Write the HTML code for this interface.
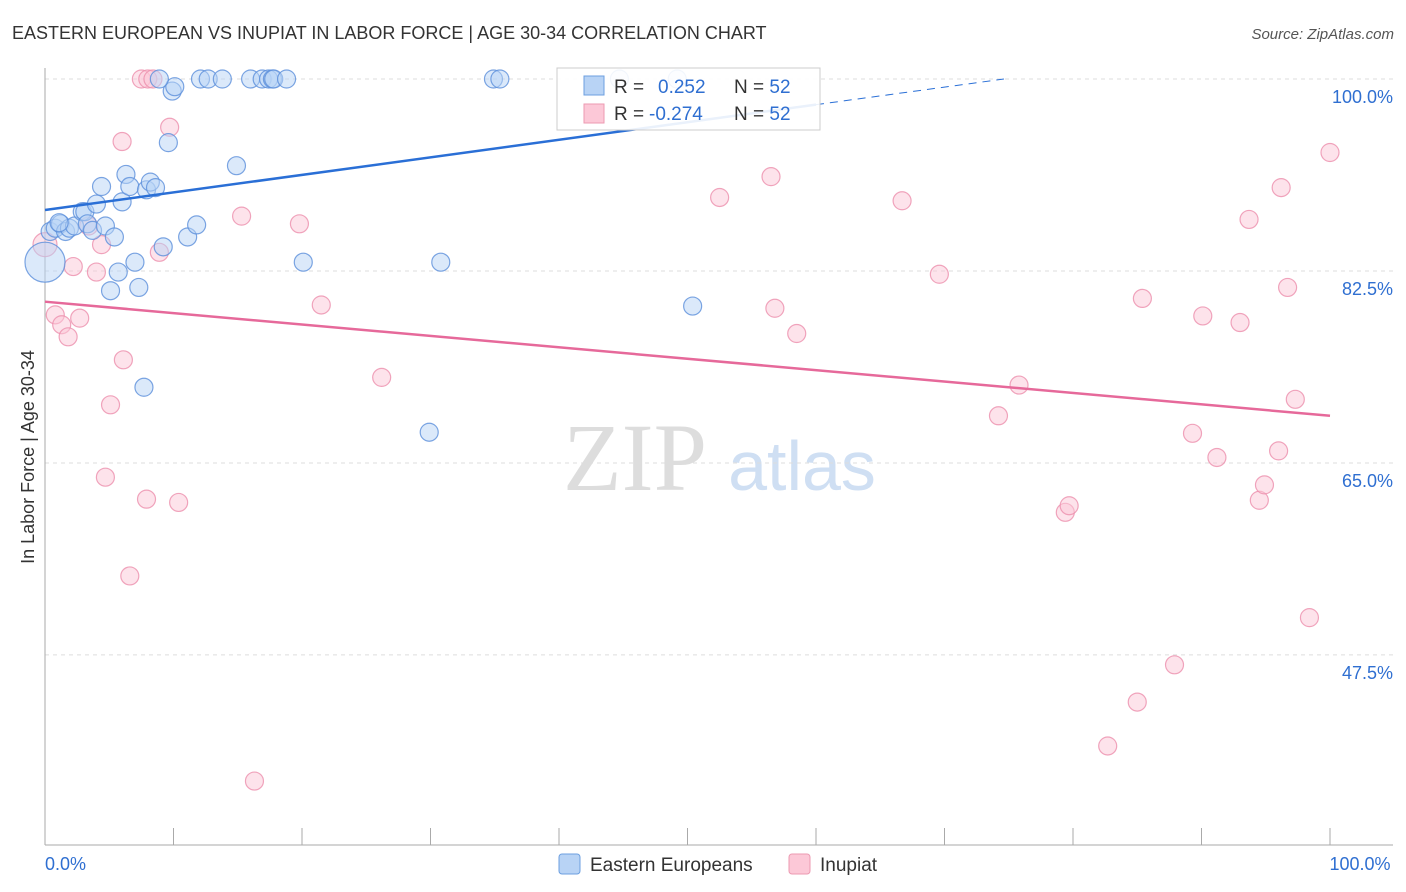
<!DOCTYPE html>
<html><head><meta charset="utf-8"><style>
body{margin:0;background:#fff;font-family:"Liberation Sans",sans-serif}
svg{display:block}
</style></head><body>
<svg id="chart" width="1406" height="892">
<text x="12" y="39" font-size="18" fill="#333">EASTERN EUROPEAN VS INUPIAT IN LABOR FORCE | AGE 30-34 CORRELATION CHART</text>
<text x="1394" y="39" font-size="15" fill="#555" text-anchor="end" font-style="italic">Source: ZipAtlas.com</text>
<text x="34" y="457" font-size="18" fill="#333" text-anchor="middle" transform="rotate(-90 34 457)">In Labor Force | Age 30-34</text>
<g>
<text x="635" y="490" font-family="Liberation Serif" font-size="96" fill="#ddd" text-anchor="middle">ZIP</text>
<text x="802" y="490" font-size="70" fill="#cfdff3" text-anchor="middle">atlas</text>
</g>
<g id="grid"></g><g id="axes"></g><g id="marks"></g>
<g>
<rect x="557" y="68" width="263" height="62" fill="#fff" fill-opacity="0.9" stroke="#ccc"/>
<rect x="584" y="76" width="20" height="19" fill="#b8d3f5" stroke="#6c9fe0"/>
<rect x="584" y="104" width="20" height="19" fill="#fcc8d7" stroke="#ec9ab2"/>
<text x="614" y="93" font-size="19" fill="#333">R = <tspan x="658" fill="#2f6fd1">0.252</tspan><tspan x="734">N = </tspan><tspan fill="#2f6fd1">52</tspan></text>
<text x="614" y="120" font-size="19" fill="#333">R = <tspan x="649" fill="#2f6fd1">-0.274</tspan><tspan x="734">N = </tspan><tspan fill="#2f6fd1">52</tspan></text>
</g>
<g>
<rect x="559" y="854" width="21" height="20" rx="3" fill="#b8d3f5" stroke="#6c9fe0"/>
<text x="590" y="871" font-size="19" fill="#333">Eastern Europeans</text>
<rect x="789" y="854" width="21" height="20" rx="3" fill="#fcc8d7" stroke="#ec9ab2"/>
<text x="820" y="871" font-size="19" fill="#333">Inupiat</text>
</g>
</svg>
<script>
const yTicks=[100,82.5,65,47.5];
const yTickLabels=["100.0%","82.5%","65.0%","47.5%"];
const xTickLabels=["0.0%","100.0%"];
const blueX=[0,0.4,0.8,1.2,1.6,1.9,2.3,2.9,3.1,3.3,3.7,4.0,4.4,4.7,5.1,5.4,5.7,6.0,6.3,6.6,7.0,7.3,7.7,7.9,8.2,8.6,9.2,9.6,9.9,10.1,8.9,12.1,12.7,13.8,14.9,11.1,11.8,16.0,16.9,17.4,17.7,17.8,18.8,20.1,29.9,30.8,34.9,35.4,44.7,49.2,50.4,1.1];
const blueY=[83.3,86.1,86.4,86.8,86.1,86.4,86.6,87.9,87.9,86.8,86.2,88.6,90.2,86.6,80.7,85.6,82.4,88.8,91.3,90.2,83.3,81.0,71.9,89.9,90.6,90.1,84.7,94.2,98.9,99.3,100,100,100,100,92.1,85.6,86.7,100,100,100,100,100,100,83.3,67.8,83.3,100,100,100,100,79.3,86.9];
const pinkX=[0,0.8,1.3,1.8,2.2,2.7,3.4,4.0,4.4,5.1,4.7,6.0,6.1,6.6,7.5,8.0,8.4,7.9,8.9,9.7,10.4,15.3,16.3,19.8,21.5,26.2,52.5,56.5,56.8,58.5,66.7,69.6,74.2,75.8,79.4,79.7,82.7,85.0,85.4,87.9,89.3,90.1,91.2,93.0,93.7,94.5,94.9,96.0,96.2,96.7,97.3,98.4,100];
const pinkY=[84.9,78.5,77.6,76.5,82.9,78.2,86.6,82.4,84.9,70.3,63.7,94.3,74.4,54.7,100,100,100,61.7,84.2,95.6,61.4,87.5,36.0,86.8,79.4,72.8,89.2,91.1,79.1,76.8,88.9,82.2,69.3,72.1,60.5,61.1,39.2,43.2,80.0,46.6,67.7,78.4,65.5,77.8,87.2,61.6,63.0,66.1,90.1,81.0,70.8,50.9,93.3];
const blueTrend=[88.06,0.16];
const pinkTrend=[79.7,-0.104];
const NS="http://www.w3.org/2000/svg";
const X=v=>45+v*12.85, Y=v=>79+(100-v)*10.97;
function mk(t,a,p){const e=document.createElementNS(NS,t);for(const k in a)e.setAttribute(k,a[k]);p.appendChild(e);return e;}
const grid=document.getElementById('grid'),axes=document.getElementById('axes'),marks=document.getElementById('marks');
yTicks.forEach((t,i)=>{
 const l=mk('line',{x1:45,x2:1393,y1:Y(t),y2:Y(t),stroke:'#ddd','stroke-dasharray':'4 4'},grid);
 
 
 const tx=mk('text',{x:1393,y:Y(t)+24,'font-size':18,fill:'#2f6fd1','text-anchor':'end'},axes);
 tx.textContent=yTickLabels[i];
 
 
});
const ya=mk('line',{x1:45,x2:45,y1:68,y2:845,stroke:'#aaa'},axes);


const xa=mk('line',{x1:45,x2:1393,y1:845,y2:845,stroke:'#aaa'},axes);


for(let k=0;k<=10;k++){const t=mk('line',{x1:X(k*10),x2:X(k*10),y1:828,y2:845,stroke:'#aaa'},axes);
 
 }
[[0,'start',45],[100,'middle',1360]].forEach((d,i)=>{const t=mk('text',{x:d[2],y:870,'font-size':18,fill:'#2f6fd1','text-anchor':d[1]},axes);t.textContent=xTickLabels[i];
 
 });
function dots(xs,ys,fill,stroke,name){xs.forEach((x,i)=>{const r=(x===0&&i===0)?(name==='blue'?20:12):9;
 const c=mk('circle',{cx:X(x),cy:Y(ys[i]),r:r,fill:fill,'fill-opacity':0.5,stroke:stroke,'stroke-opacity':0.8,'stroke-width':1.2},marks);
 
 });}
dots(pinkX,pinkY,'#fcc8d7','#ec8fad','inupiat');
dots(blueX,blueY,'#b8d3f5','#5b8fdb','blue');
const bEnd=(100-blueTrend[0])/blueTrend[1];
const b1=mk('line',{x1:X(0),y1:Y(blueTrend[0]),x2:X(60),y2:Y(blueTrend[0]+blueTrend[1]*60),stroke:'#2a6fd6','stroke-width':2.5},marks);


const b2=mk('line',{x1:X(60),y1:Y(blueTrend[0]+blueTrend[1]*60),x2:X(bEnd),y2:Y(100),stroke:'#2a6fd6','stroke-width':1,'stroke-dasharray':'8 6'},marks);


const p1=mk('line',{x1:X(0),y1:Y(pinkTrend[0]),x2:X(100),y2:Y(pinkTrend[0]+pinkTrend[1]*100),stroke:'#e6699a','stroke-width':2.5},marks);


</script>
</body></html>
